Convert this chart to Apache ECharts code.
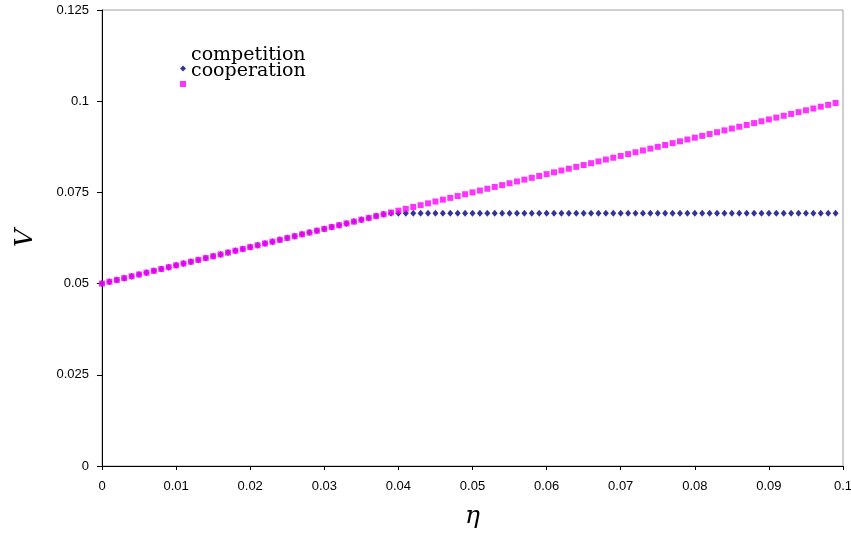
<!DOCTYPE html>
<html>
<head>
<meta charset="utf-8">
<script src="https://cdn.jsdelivr.net/npm/echarts@6/dist/echarts.min.js"></script>
<style>html,body{margin:0;padding:0;background:#fff;}#c{width:851px;height:535px;}</style>
</head>
<body>
<div id="c"></div>
<script>
var eta = [0,0.001,0.002,0.003,0.004,0.005,0.006,0.007,0.008,0.009,
0.010,0.011,0.012,0.013,0.014,0.015,0.016,0.017,0.018,0.019,
0.020,0.021,0.022,0.023,0.024,0.025,0.026,0.027,0.028,0.029,
0.030,0.031,0.032,0.033,0.034,0.035,0.036,0.037,0.038,0.039,
0.040,0.041,0.042,0.043,0.044,0.045,0.046,0.047,0.048,0.049,
0.050,0.051,0.052,0.053,0.054,0.055,0.056,0.057,0.058,0.059,
0.060,0.061,0.062,0.063,0.064,0.065,0.066,0.067,0.068,0.069,
0.070,0.071,0.072,0.073,0.074,0.075,0.076,0.077,0.078,0.079,
0.080,0.081,0.082,0.083,0.084,0.085,0.086,0.087,0.088,0.089,
0.090,0.091,0.092,0.093,0.094,0.095,0.096,0.097,0.098,0.099];

var cooperation = [0.0500,0.0505,0.0510,0.0515,0.0520,0.0525,0.0530,0.0535,0.0540,0.0545,
0.0550,0.0555,0.0560,0.0565,0.0570,0.0575,0.0580,0.0585,0.0590,0.0595,
0.0600,0.0605,0.0610,0.0615,0.0620,0.0625,0.0630,0.0635,0.0640,0.0645,
0.0650,0.0655,0.0660,0.0665,0.0670,0.0675,0.0680,0.0685,0.0690,0.0695,
0.0700,0.0705,0.0710,0.0715,0.0720,0.0725,0.0730,0.0735,0.0740,0.0745,
0.0750,0.0755,0.0760,0.0765,0.0770,0.0775,0.0780,0.0785,0.0790,0.0795,
0.0800,0.0805,0.0810,0.0815,0.0820,0.0825,0.0830,0.0835,0.0840,0.0845,
0.0850,0.0855,0.0860,0.0865,0.0870,0.0875,0.0880,0.0885,0.0890,0.0895,
0.0900,0.0905,0.0910,0.0915,0.0920,0.0925,0.0930,0.0935,0.0940,0.0945,
0.0950,0.0955,0.0960,0.0965,0.0970,0.0975,0.0980,0.0985,0.0990,0.0995];

var competition = [0.0500,0.0505,0.0510,0.0515,0.0520,0.0525,0.0530,0.0535,0.0540,0.0545,
0.0550,0.0555,0.0560,0.0565,0.0570,0.0575,0.0580,0.0585,0.0590,0.0595,
0.0600,0.0605,0.0610,0.0615,0.0620,0.0625,0.0630,0.0635,0.0640,0.0645,
0.0650,0.0655,0.0660,0.0665,0.0670,0.0675,0.0680,0.0685,0.0690,0.0693,
0.0693,0.0693,0.0693,0.0693,0.0693,0.0693,0.0693,0.0693,0.0693,0.0693,
0.0693,0.0693,0.0693,0.0693,0.0693,0.0693,0.0693,0.0693,0.0693,0.0693,
0.0693,0.0693,0.0693,0.0693,0.0693,0.0693,0.0693,0.0693,0.0693,0.0693,
0.0693,0.0693,0.0693,0.0693,0.0693,0.0693,0.0693,0.0693,0.0693,0.0693,
0.0693,0.0693,0.0693,0.0693,0.0693,0.0693,0.0693,0.0693,0.0693,0.0693,
0.0693,0.0693,0.0693,0.0693,0.0693,0.0693,0.0693,0.0693,0.0693,0.0693];

var seriesNames = ['competition', 'cooperation'];

function pairs(xs, ys) { return xs.map(function (x, i) { return [x, ys[i]]; }); }

var chart = echarts.init(document.getElementById('c'), null, {renderer: 'canvas'});
var tickFont = {fontFamily: 'Liberation Sans, Arial, sans-serif', fontSize: 13, color: '#000'};
chart.setOption({
  animation: false,
  backgroundColor: '#fff',
  grid: {left: 102, right: 8, top: 10, bottom: 69, show: true, borderColor: '#a0a0a0', borderWidth: 1,
         backgroundColor: 'transparent', outerBoundsMode: 'none', containLabel: false},
  legend: {
    orient: 'vertical', left: 180, top: 46, itemWidth: 6, itemHeight: 6, itemGap: -10,
    data: [{name: seriesNames[0], icon: 'diamond'}, {name: seriesNames[1], icon: 'rect'}],
    formatter: function (n) { return '{t|' + n + '}'; },
    textStyle: {
      color: '#000',
      rich: {t: {fontFamily: 'DejaVu Serif', fontSize: 19, color: '#000', padding: [0, 0, 26, 0]}}
    },
    padding: 0
  },
  xAxis: {
    type: 'value', min: 0, max: 0.1, interval: 0.01,
    name: 'η', nameLocation: 'middle', nameGap: 38,
    nameTextStyle: {fontFamily: 'DejaVu Serif', fontStyle: 'italic', fontSize: 25, color: '#000'},
    axisLine: {show: true, lineStyle: {color: '#000', width: 1}},
    axisTick: {show: true, length: 4, lineStyle: {color: '#000'}},
    axisLabel: Object.assign({margin: 14, formatter: function (v) { return +v.toFixed(3) + ''; }}, tickFont),
    splitLine: {show: false}
  },
  yAxis: {
    type: 'value', min: 0, max: 0.125, interval: 0.025,
    name: 'V', nameLocation: 'middle', nameGap: 64, nameRotate: 90,
    nameTextStyle: {fontFamily: 'DejaVu Serif', fontStyle: 'italic', fontSize: 25, color: '#000'},
    axisLine: {show: true, lineStyle: {color: '#000', width: 1}},
    axisTick: {show: true, length: 5, lineStyle: {color: '#000'}},
    axisLabel: Object.assign({margin: 13, formatter: function (v) { return +v.toFixed(3) + ''; }}, tickFont),
    splitLine: {show: false}
  },
  series: [
    {name: seriesNames[0], type: 'scatter', symbol: 'diamond', symbolSize: [6, 7],
     itemStyle: {color: '#000080'}, data: pairs(eta, competition), z: 2},
    {name: seriesNames[1], type: 'scatter', symbol: 'rect', symbolSize: 6,
     itemStyle: {color: '#ff00ff'}, data: pairs(eta, cooperation), z: 3}
  ]
});
</script>
</body>
</html>
